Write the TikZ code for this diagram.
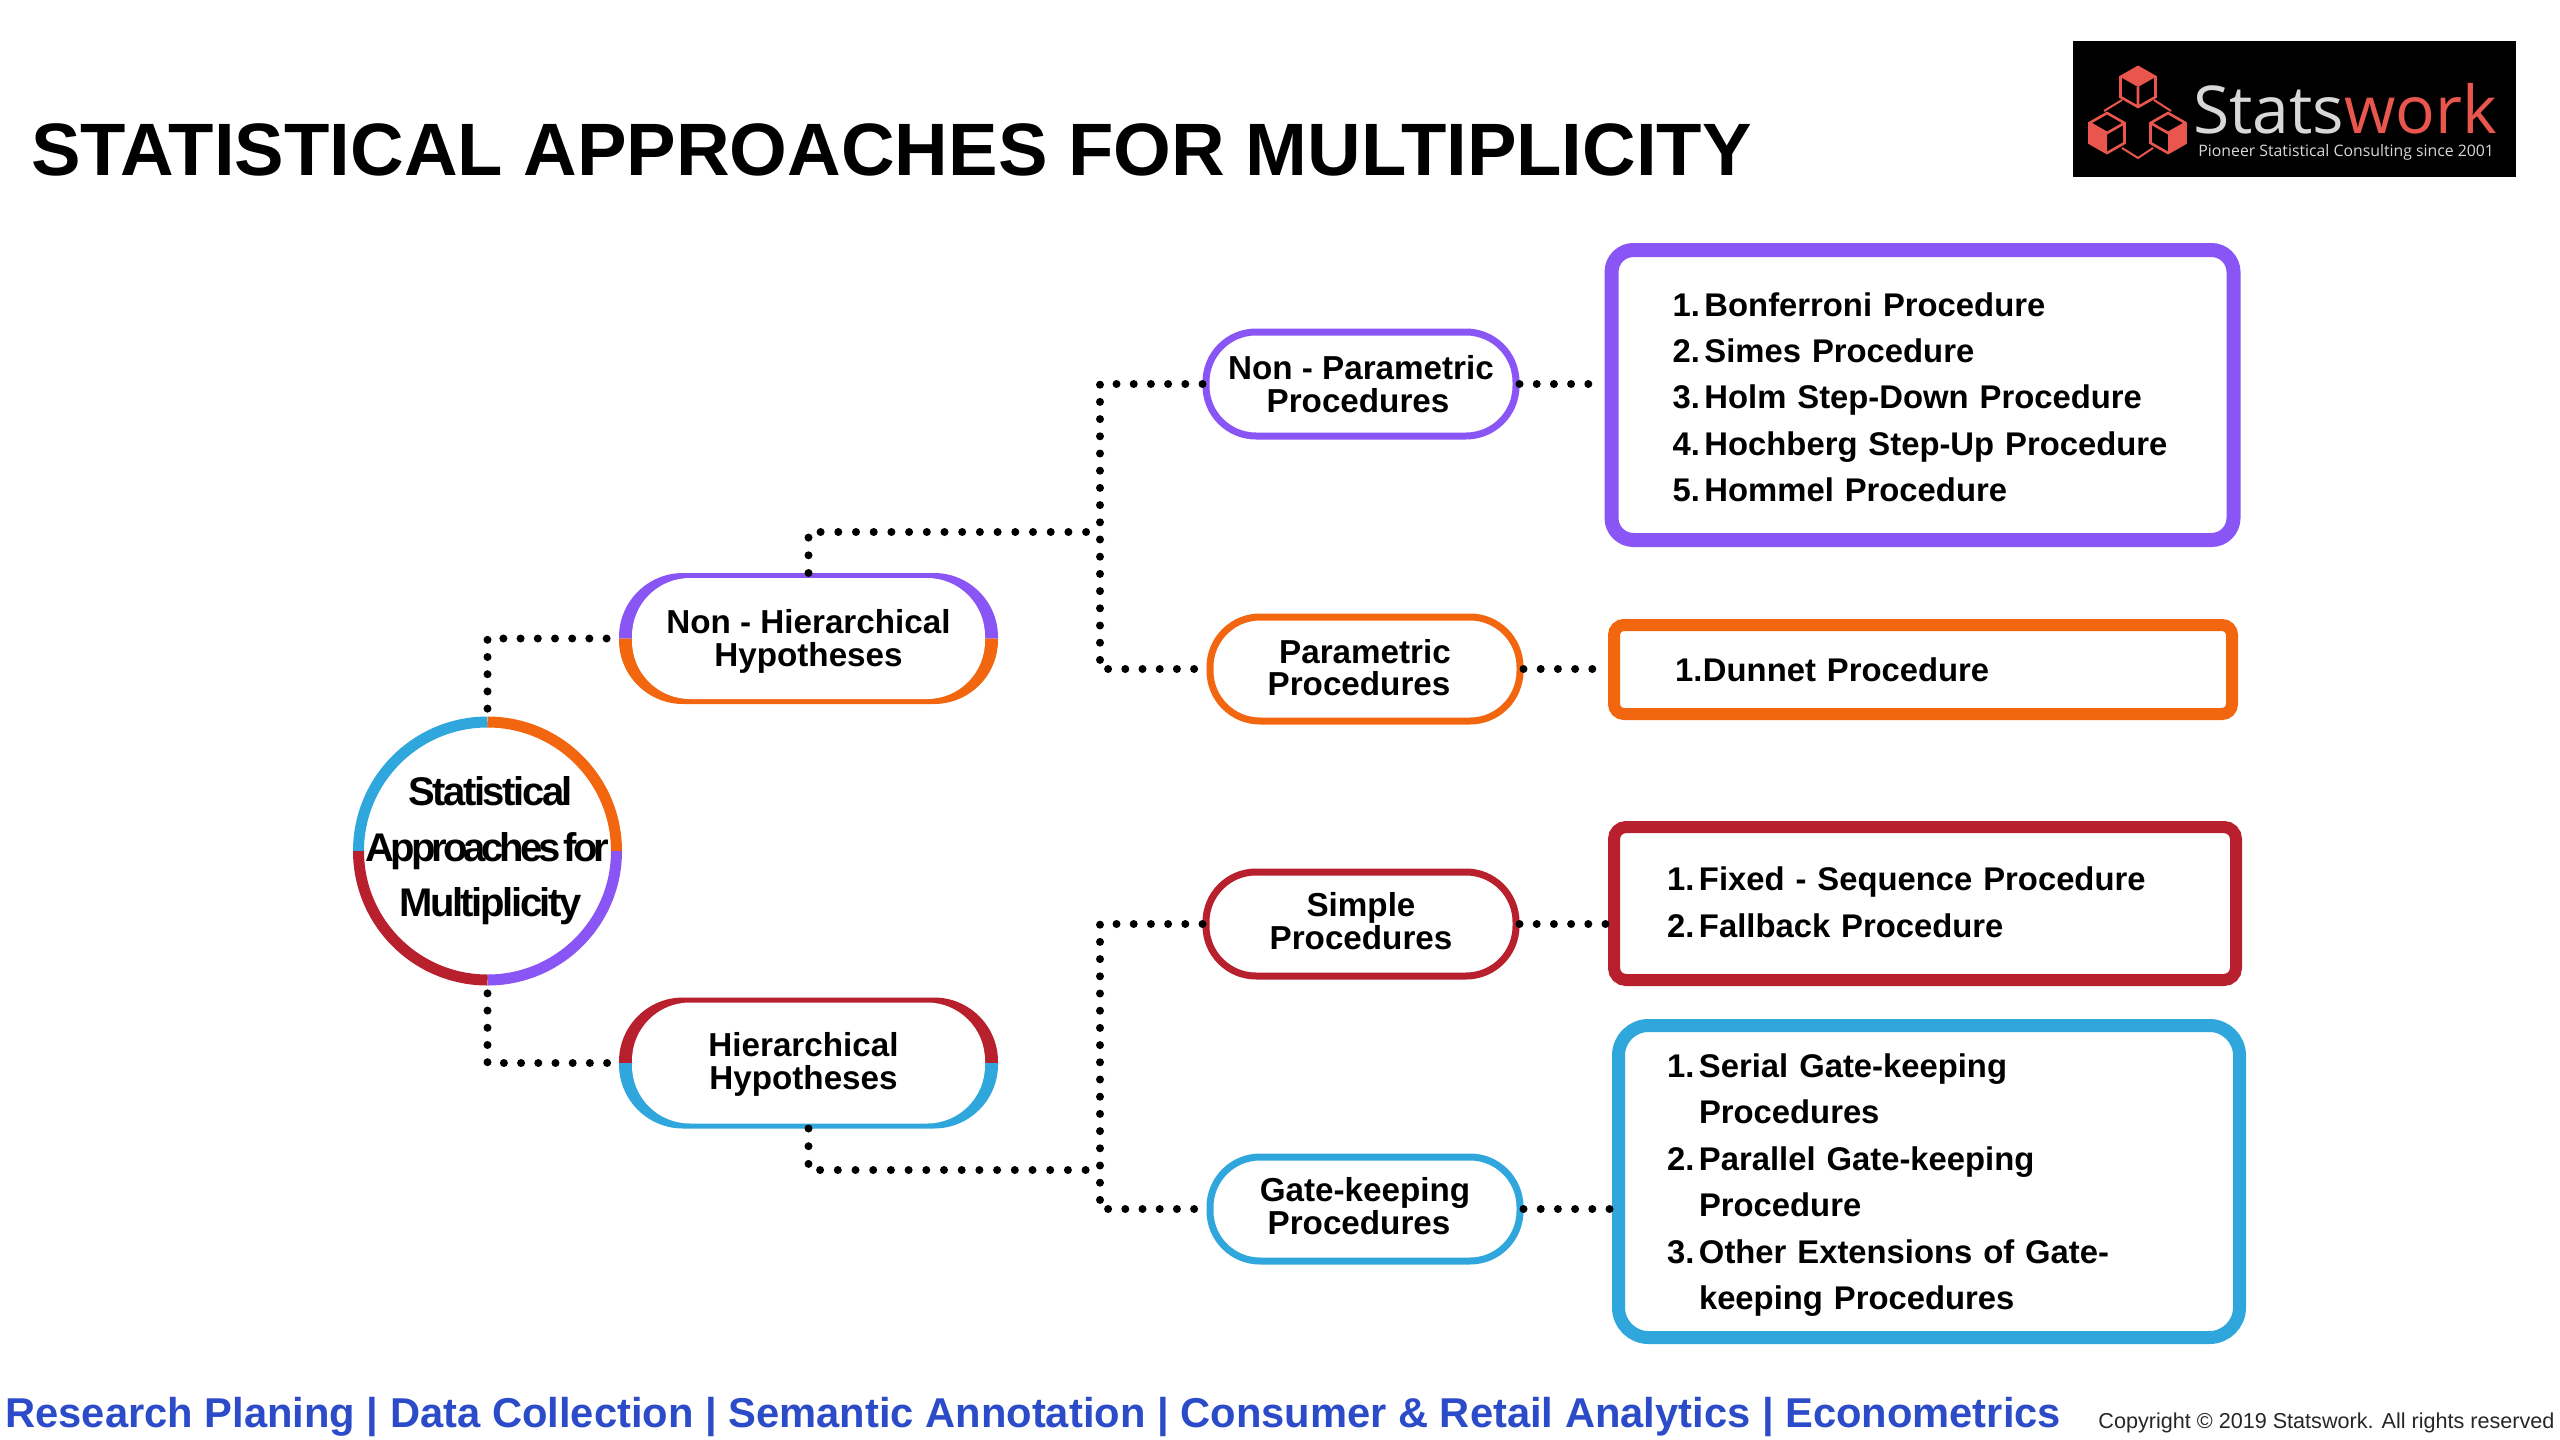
\documentclass[tikz,border=0pt]{standalone}
\usepackage{fontspec}
\setmainfont{Liberation Sans}
\newfontfamily\logofont{Open Sans}
\usetikzlibrary{backgrounds,calc}
\definecolor{cpurple}{HTML}{8A55F5}
\definecolor{corange}{HTML}{F2660F}
\definecolor{cred}{HTML}{B8202E}
\definecolor{cblue}{HTML}{2FA6DC}
\definecolor{cfoot}{HTML}{2B4BC8}
\definecolor{csalmon}{HTML}{E8564D}
\definecolor{cgreyl}{HTML}{D8D8D8}
\newcommand{\itm}[3][16pt]{\mbox{\makebox[#1][l]{#2}#3}}
\newcommand{\dn}[1]{\rule{0pt}{#1}}
\newcommand{\up}[1]{\rule[-#1]{0pt}{#1}}
\tikzset{
  dotline/.style={draw=black,line width=4pt,line cap=round,dash pattern=on 0pt off 8.6pt},
  longdot/.style={dotline,dash pattern=on 0pt off 8.85pt},
  pilltext/.style={font=\bfseries\fontsize{16.6}{16.3}\selectfont,align=center},
  bigpill/.style={pilltext,minimum width=189.5pt,minimum height=65.5pt,inner sep=0pt,outer sep=0pt},
  smallpill/.style={pilltext,draw=#1,line width=3.5pt,fill=white,minimum width=155pt,minimum height=52pt,inner sep=0pt,rounded corners=25pt},
  listbox/.style n args={4}{draw=#1,line width=#2,fill=white,rounded corners=#3,minimum height=#4,
     font=\bfseries\fontsize{16.4}{23.2}\selectfont,align=left,inner ysep=0pt},
  ringarc/.style={line width=5.5pt},
  lk/.style={draw=csalmon,line width=1pt},
  cubetop/.pic={\fill[csalmon] (0,-20)--(17.5,-10)--(0,0)--(-17.5,-10)--cycle;
     \draw[draw=csalmon,line width=1.3pt] (0,-20)--(17.5,-10)--(17.5,10)--(0,20)--(-17.5,10)--(-17.5,-10)--cycle (0,0)--(0,20);},
  cubeleft/.pic={\fill[csalmon] (-17.5,-10)--(0,0)--(0,20)--(-17.5,10)--cycle;
     \draw[draw=csalmon,line width=1.3pt] (0,-20)--(17.5,-10)--(17.5,10)--(0,20)--(-17.5,10)--(-17.5,-10)--cycle (-17.5,-10)--(0,0)--(17.5,-10);},
  cuberight/.pic={\fill[csalmon] (17.5,-10)--(0,0)--(0,20)--(17.5,10)--cycle;
     \draw[draw=csalmon,line width=1.3pt] (0,-20)--(17.5,-10)--(17.5,10)--(0,20)--(-17.5,10)--(-17.5,-10)--cycle (-17.5,-10)--(0,0)--(17.5,-10);},
}
\begin{document}
\begin{tikzpicture}[x=0.5pt,y=-0.5pt]
\useasboundingbox (0,0) rectangle (2560,1440);

% title
\node[anchor=base west,inner sep=0pt,font=\bfseries\fontsize{37.13}{40}\selectfont] (title) at (31,175) {STATISTICAL APPROACHES FOR MULTIPLICITY};

% logo
\fill[black] (2073,41) rectangle (2516,177);
\draw[lk] (2122,100)--(2104,111) (2154,100)--(2171,111) (2122,148)--(2138,158)--(2153,148);
\path (2138,87) pic {cubetop};
\path (2107,133) pic {cubeleft};
\path (2168,133) pic {cuberight};
\node[anchor=base west,inner sep=0pt,font=\logofont\fontsize{33}{35}\selectfont] (brand) at (2193,133) {\textcolor{cgreyl}{Stats}\textcolor{csalmon}{work}};
\node[anchor=base west,inner sep=0pt,font=\logofont\fontsize{7.9}{8}\selectfont,text=cgreyl] (tag) at (2198,156) {Pioneer Statistical Consulting since 2001};

% root
\node[circle,minimum size=134pt,inner sep=0pt,outer sep=0pt,align=center,
  font=\bfseries\fontsize{20}{27.7}\selectfont\addfontfeature{LetterSpace=-6}] (root) at (487.5,851)
  {Statistical\hspace*{-3pt}\\{\addfontfeature{LetterSpace=-10}Approaches\hspace{-2pt} for}\\Multiplicity\hspace*{-3pt}};
\draw[cblue,ringarc]   ($(root.center)+(-129,0)$) arc[start angle=180,end angle=270,radius=129];
\draw[corange,ringarc] ($(root.center)+(0,-129)$) arc[start angle=270,end angle=360,radius=129];
\draw[cpurple,ringarc] ($(root.center)+(129,0)$) arc[start angle=0,end angle=90,radius=129];
\draw[cred,ringarc]    ($(root.center)+(0,129)$) arc[start angle=90,end angle=180,radius=129];

% big pills
\node[bigpill] (nh) at (808.5,638.5) {\dn{15pt}Non - Hierarchical\\Hypotheses};
\node[bigpill] (hh) at (808.5,1063) {\dn{13.5pt}Hierarchical\hspace*{5pt}\\Hypotheses\hspace*{5pt}};
\begin{scope}[on background layer]
\fill[cpurple] (nh.west) [rounded corners=32pt] -- (nh.north west) -- (nh.north east) [sharp corners] -- (nh.east) -- cycle;
\fill[corange] (nh.west) [rounded corners=32pt] -- (nh.south west) -- (nh.south east) [sharp corners] -- (nh.east) -- cycle;
\fill[white,rounded corners=29pt] ($(nh.south west)+(13,-5)$) rectangle ($(nh.north east)+(-13,5)$);
\fill[cred] (hh.west) [rounded corners=32pt] -- (hh.north west) -- (hh.north east) [sharp corners] -- (hh.east) -- cycle;
\fill[cblue] (hh.west) [rounded corners=32pt] -- (hh.south west) -- (hh.south east) [sharp corners] -- (hh.east) -- cycle;
\fill[white,rounded corners=29pt] ($(hh.south west)+(13,-5)$) rectangle ($(hh.north east)+(-13,5)$);
\end{scope}

% small pills
\node[smallpill=cpurple] (np) at (1361,384) {Non - Parametric\\Procedures\hspace*{3pt}};
\node[smallpill=corange] (pp) at (1365,669) {Parametric\\Procedures\hspace*{6pt}\up{1.5pt}};
\node[smallpill=cred]    (sp) at (1361,924) {Simple\\Procedures\up{3pt}};
\node[smallpill=cblue]   (gp) at (1365,1209) {Gate-keeping\\Procedures\hspace*{6pt}\up{3pt}};

% boxes
\node[listbox={cpurple}{7pt}{11pt}{145pt},text width=250pt,inner xsep=30.5pt] (b1) at (1922.5,395)
 {\itm{1.}{\dn{14pt}Bonferroni Procedure}\\\itm{2.}{Simes Procedure}\\\itm{3.}{Holm Step-Down Procedure}\\\itm{4.}{Hochberg Step-Up Procedure}\\\itm{5.}{Hommel Procedure}};
\node[listbox={corange}{6pt}{5pt}{44.5pt},text width=248pt,inner xsep=30.5pt] (b2) at (1923,669.5)
 {\itm[14pt]{1.}{Dunnet Procedure}};
\node[listbox={cred}{6pt}{6pt}{76.5pt},text width=258pt,inner xsep=26.5pt] (b3) at (1925,903.5)
 {\itm{1.}{Fixed - Sequence Procedure}\\\itm{2.}{Fallback Procedure\up{1.5pt}}};
\node[listbox={cblue}{6.5pt}{15pt}{156pt},text width=262pt,inner xsep=24.25pt] (b4) at (1929,1181.5)
 {\itm{1.}{\dn{15.5pt}Serial Gate-keeping}\\\itm{}{Procedures}\\\itm{2.}{Parallel Gate-keeping}\\\itm{}{Procedure}\\\itm{3.}{Other Extensions of Gate-}\\\itm{}{keeping Procedures}};

% connectors
\coordinate (spa) at (1090,532);
\coordinate (spb) at (1090,1170);
\coordinate (tr) at (1100,0);
\draw[dotline] (root.north) |- (nh.west);
\draw[dotline] (root.south) |- (hh.west);
\draw[longdot] (nh.north) |- (spa);
\draw[longdot] (hh.south) |- (spb);
\draw[dotline] (np.west) -- (np.west -| tr) -- (pp.west -| tr) -- (pp.west);
\draw[dotline] (sp.west) -- (sp.west -| tr) -- (gp.west -| tr) -- (gp.west);
\draw[dotline] (np.east) -- (np.east -| b1.west);
\draw[dotline] (pp.east) -- (pp.east -| b2.west);
\draw[dotline] (sp.east) -- (sp.east -| b3.west);
\draw[dotline] (gp.east) -- (gp.east -| b4.west);

% footer
\node[anchor=base west,inner sep=0pt,font=\bfseries\fontsize{20.85}{24}\selectfont,text=cfoot] (foot) at (5,1427)
 {Research Planing | Data Collection | Semantic Annotation | Consumer \& Retail Analytics | Econometrics};
\node[anchor=base west,inner sep=0pt,font=\fontsize{10.8}{12}\selectfont,text=black!85] (copy) at (2098,1428)
 {Copyright © 2019 Statswork. All rights reserved};
\end{tikzpicture}
\end{document}
